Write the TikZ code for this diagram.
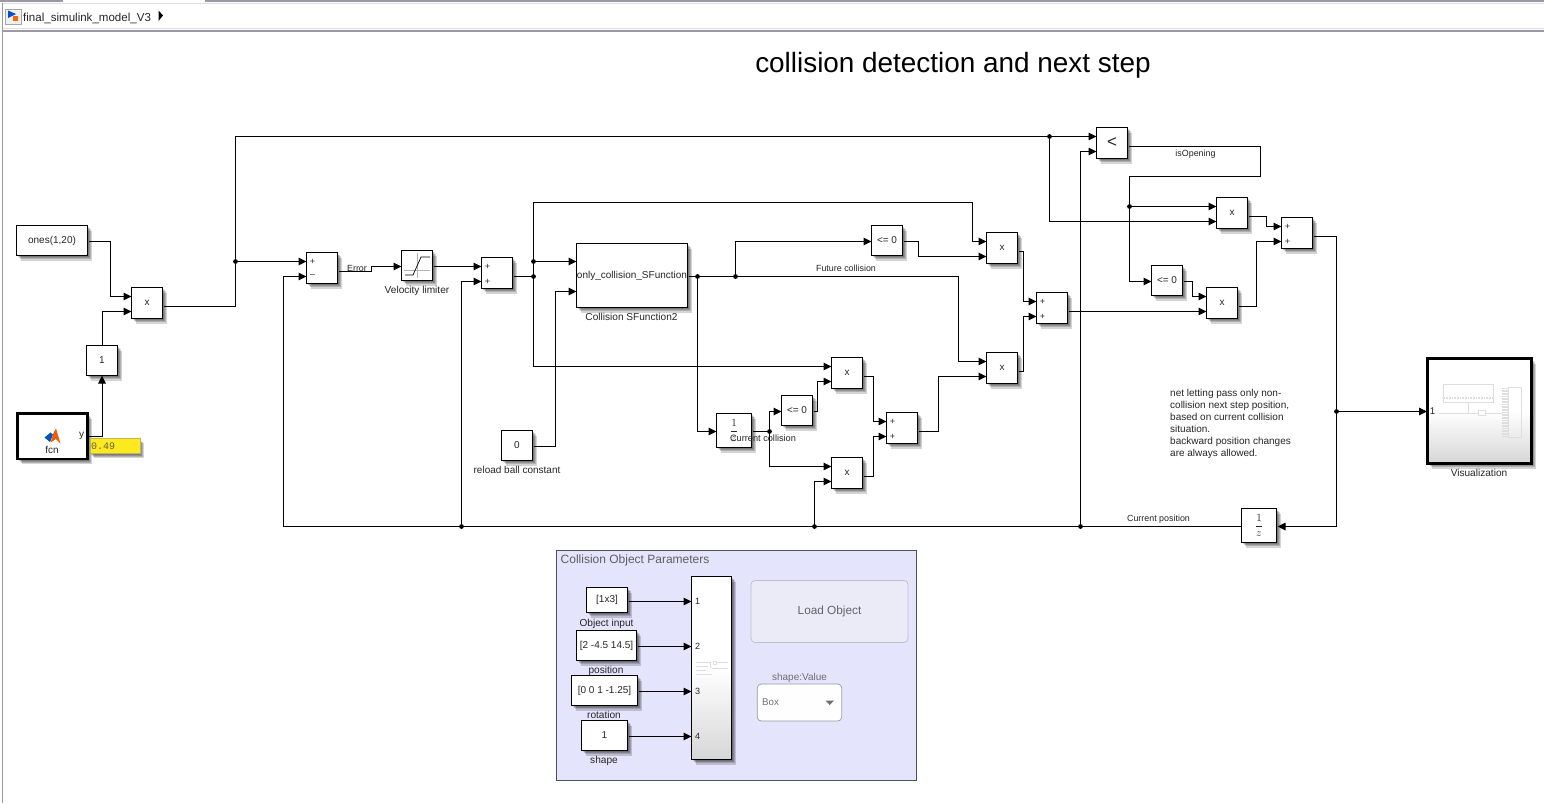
\documentclass[tikz,border=0pt]{standalone}
\usepackage{fontspec}
\setmainfont{Liberation Sans}
\newfontfamily\dispmono{Liberation Mono}
\usetikzlibrary{arrows.meta}
\definecolor{txt}{HTML}{262626}
\definecolor{panelbg}{HTML}{E4E4FC}
\definecolor{panelln}{HTML}{50505A}
\definecolor{barln}{HTML}{9A9AA6}
\definecolor{btnbg}{HTML}{EBEBF8}
\definecolor{btnln}{HTML}{BEBECC}
\definecolor{graytxt}{HTML}{6E6E78}
\definecolor{thumb}{HTML}{DEDEDE}
\definecolor{dispfill}{HTML}{FCE91E}
\definecolor{displn}{HTML}{C4B45A}
\tikzset{
  block/.style={draw=black,line width=1pt,fill=white,inner sep=0pt,outer sep=0pt,text=txt,font=\fontsize{10}{12}\selectfont},
  thickblock/.style={line width=2.4pt},
  shadestyle/.style={top color=white,bottom color=gray!32,middle color=white},
  lbl/.style={inner sep=0pt,text=txt,yshift=-.8pt,font=\fontsize{10.1}{12}\selectfont},
  sig/.style={lbl,font=\fontsize{8.9}{11}\selectfont},
  wire/.style={line width=1pt,draw=black,-{Triangle[length=8pt,width=7.5pt]}},
  plain/.style={line width=1pt,draw=black},
  jn/.style={circle,fill=black,inner sep=0pt,minimum size=4.8pt},
  sgn/.style={inner sep=0pt,text=txt,font=\fontsize{9}{10}\selectfont},
  thumbline/.style={draw=thumb,line width=.5pt}
}
\newcommand{\shd}[4]{\foreach \dx/\dy in {1/1.5,2/2.5,3/3.5,4/5}{\fill[black,opacity=.17] ({#1+\dx},{#2+\dy}) rectangle ({#3+\dx},{#4+\dy});}}
% [options], name, x1, y1, x2, y2, text
\newcommand{\blk}[7][]{\shd{#3}{#4}{#5}{#6}
  \node[block,#1,minimum width={(#5-#3)*1pt},minimum height={(#6-#4)*1pt}] (#2) at ({(#3+#5)/2},{(#4+#6)/2}) {\raisebox{-1.5pt}{#7}};}
% two-input block: input ports a, b and output o
\newcommand{\pblk}[4]{\blk{#1}{#2.5}{#3.5}{#2.5+31}{#3.5+31}{#4}
  \coordinate (#1-a) at (#2.5,#3+9.5);
  \coordinate (#1-b) at (#2.5,#3+24.5);
  \coordinate (#1-o) at (#2+33,#3+19.5);}
\newcommand{\oneoverz}{\raisebox{-.5pt}{\scalebox{1.1}{$\displaystyle\frac{1}{z}$}}}
\newcommand{\xmark}{\raisebox{-1pt}{x}}
\begin{document}
\begin{tikzpicture}[x=1pt,y=-1pt]
\useasboundingbox (0,0) rectangle (1544,803);
\fill[white] (0,0) rectangle (1544,803);
% window chrome
\fill[barln] (0,0) rectangle (63,1.5);
\fill[barln] (205,0) rectangle (1544,1.5);
\fill[barln] (2,3) rectangle (3.2,803);
\fill[barln] (3,30) rectangle (1544,32);
\draw[gray!25,line width=.5pt] (3,3.5) -- (1544,3.5);
\draw[gray!25,line width=.5pt] (3,28.5) -- (1544,28.5);
\draw[fill=gray!12,draw=gray!70,line width=.6pt] (5.5,9) rectangle (21,24.5);
\fill[blue!60!cyan!80!black] (8,10.5) -- (16,14) -- (8,18) -- cycle;
\fill[orange!80!red] (13,16) rectangle (18,21);
\node[anchor=west,inner sep=0pt,text=txt,font=\fontsize{11.55}{14}\selectfont] (crumb) at (23,18) {final\_simulink\_model\_V3};
\fill[black] (158.5,10.5) -- (163,15.5) -- (158.5,21) -- cycle;
% title
\node[inner sep=0pt,text=black,font=\fontsize{27.9}{32}\selectfont] (title) at (953,65) {collision detection and next step};

% blocks
\blk{ones}{16.5}{225.5}{87.5}{255.5}{\raisebox{-1pt}{ones(1,20)}}
\pblk{pa}{131}{287}{\xmark}
\blk{gain}{86.5}{345.5}{117.5}{375.5}{1}
\blk[thickblock]{fcn}{17.5}{413.5}{87.5}{459}{}
\pblk{sa}{306}{252}{}
\blk{lim}{401.5}{250.5}{432.5}{280.5}{}
\pblk{sb}{481}{257}{}
\blk{sfn}{576.5}{243.5}{687.5}{307.5}{\raisebox{-1pt}{only\_collision\_SFunction}}
\blk{zero}{501.5}{430.5}{532.5}{460.5}{0}
\blk{dly}{716.5}{413.5}{751.5}{447.5}{\oneoverz}
\blk{lea}{871.5}{225.5}{902.5}{255.5}{<= 0}
\pblk{pb}{986}{232}{\xmark}
\pblk{pc}{986}{352}{\xmark}
\pblk{sc}{1036}{292}{}
\pblk{pd}{831}{357}{\xmark}
\blk{leb}{781.5}{395.5}{812.5}{425.5}{<= 0}
\pblk{sd}{886}{412}{}
\pblk{pe}{831}{457}{\xmark}
\pblk{cmp}{1096}{127}{\fontsize{17}{20}\selectfont <}
\pblk{pf}{1216}{197}{\xmark}
\pblk{se}{1281}{217}{}
\blk{lec}{1151.5}{265.5}{1182.5}{295.5}{<= 0}
\pblk{pg}{1206}{287}{\xmark}
\blk{udl}{1241.5}{508.5}{1276.5}{542.5}{\oneoverz}
\blk[thickblock,shadestyle]{vis}{1427.5}{358.5}{1531.5}{463.5}{}

% signs on sums
\foreach \n in {sb,sc,sd,se}{
  \node[sgn] at ([xshift=6pt]\n-a) {+};
  \node[sgn] at ([xshift=6pt]\n-b) {+};}
\node[sgn] at ([xshift=6pt]sa-a) {+};
\node[sgn] at ([xshift=6pt]sa-b) {--};

% fcn contents
\fill[blue!55!cyan!75!black] (44.5,437.5) -- (50.5,432.5) -- (53,434.5) -- (50,442) -- cycle;
\fill[orange!75!red!95!black] (50.5,442.5) -- (53.5,433) -- (56,428.5) -- (60.5,443.5) -- (56,439) -- cycle;
\node[inner sep=0pt,text=txt,font=\fontsize{10}{12}\selectfont] (fcnl) at (52,450) {fcn};
\node[inner sep=0pt,text=txt,font=\fontsize{10}{12}\selectfont] (yl) at (81.5,436) {y};
\shd{90}{438}{140}{453}
\node[draw=displn,line width=.8pt,fill=dispfill,minimum width=50pt,minimum height=15pt,inner sep=0pt] (disp) at (115,445.5) {};
\node[anchor=west,inner sep=0pt,text=yellow!30!black,font=\dispmono\fontsize{10}{12}\selectfont] (dispt) at (91,446) {0.49};

% limiter icon
\draw[gray!60,line width=.5pt] (417,253) -- (417,278);
\draw[gray!60,line width=.5pt] (404,270) -- (430,270);
\draw[black,line width=.7pt] (405,275) -- (413,275) -- (421,257) -- (430,257);

% wires
\draw[wire] (89,241.5) -- (110.5,241.5) -- (110.5,296.5) -- (pa-a);
\draw[wire] (gain.north) -- (102,311.5) -- (pa-b);
\draw[wire] (89,436.5) -- (102,436.5) -- (gain.south);
\node[jn] (ja) at (235.5,261.5) {};
\node[jn] (jb) at (1049.5,136.5) {};
\draw[plain] (pa-o) -- (235.5,306.5) -- (235.5,136.5) -- (jb);
\draw[wire] (jb) -- (cmp-a);
\draw[wire] (ja) -- (sa-a);
\draw[wire] (1241.5,526.5) -- (283.5,526.5) -- (283.5,276.5) -- (sa-b);
\draw[wire] (sa-o) -- (371.5,271.5) -- (371.5,266.5) -- (401.5,266.5);
\draw[wire] (434,266.5) -- (sb-a);
\node[jn] (jc) at (461.5,526.5) {};
\draw[wire] (jc) -- (461.5,281.5) -- (sb-b);
\node[jn] (jd) at (533.5,276.5) {};
\node[jn] (je) at (533.5,261.5) {};
\draw[plain] (sb-o) -- (jd);
\draw[wire] (je) -- (576.5,261.5);
\draw[wire] (533.5,366.5) -- (533.5,202.5) -- (972.5,202.5) -- (972.5,241.5) -- (pb-a);
\draw[wire] (jd) -- (533.5,366.5) -- (pd-a);
\draw[wire] (534,446.5) -- (555.5,446.5) -- (555.5,291.5) -- (576.5,291.5);
\node[jn] (jf) at (697.5,276.5) {};
\node[jn] (jg) at (735.5,276.5) {};
\draw[plain] (689,276.5) -- (jf);
\draw[plain] (jf) -- (jg);
\draw[wire] (jg) -- (958.5,276.5) -- (958.5,361.5) -- (pc-a);
\draw[wire] (jg) -- (735.5,241.5) -- (871.5,241.5);
\draw[wire] (jf) -- (697.5,431.5) -- (716.5,431.5);
\node[jn] (jh) at (769.5,431.5) {};
\draw[plain] (753,431.5) -- (jh);
\draw[wire] (jh) -- (769.5,411.5) -- (781.5,411.5);
\draw[wire] (jh) -- (769.5,466.5) -- (pe-a);
\draw[wire] (814,411.5) -- (817.5,411.5) -- (817.5,381.5) -- (pd-b);
\draw[wire] (pd-o) -- (873.5,376.5) -- (873.5,421.5) -- (sd-a);
\draw[wire] (pe-o) -- (873.5,476.5) -- (873.5,436.5) -- (sd-b);
\node[jn] (ji) at (814.5,526.5) {};
\draw[wire] (ji) -- (814.5,481.5) -- (pe-b);
\draw[wire] (sd-o) -- (938.5,431.5) -- (938.5,376.5) -- (pc-b);
\draw[wire] (904,241.5) -- (918.5,241.5) -- (918.5,256.5) -- (pb-b);
\draw[wire] (pb-o) -- (1023.5,251.5) -- (1023.5,301.5) -- (sc-a);
\draw[wire] (pc-o) -- (1023.5,371.5) -- (1023.5,316.5) -- (sc-b);
\draw[wire] (sc-o) -- (pg-b);
\draw[wire] (jb) -- (1049.5,221.5) -- (pf-b);
\node[jn] (jj) at (1080.5,526.5) {};
\draw[wire] (jj) -- (1080.5,151.5) -- (cmp-b);
\node[jn] (jk) at (1129.5,206.5) {};
\draw[plain] (cmp-o) -- (1260.5,146.5) -- (1260.5,176.5) -- (1129.5,176.5) -- (jk);
\draw[wire] (jk) -- (pf-a);
\draw[wire] (jk) -- (1129.5,281.5) -- (1151.5,281.5);
\draw[wire] (pf-o) -- (1266.5,216.5) -- (1266.5,226.5) -- (se-a);
\draw[wire] (pg-o) -- (1256.5,306.5) -- (1256.5,241.5) -- (se-b);
\draw[wire] (1184,281.5) -- (1192.5,281.5) -- (1192.5,296.5) -- (pg-a);
\node[jn] (jl) at (1336.5,411.5) {};
\draw[wire] (se-o) -- (1336.5,236.5) -- (1336.5,526.5) -- (1277.5,526.5);
\draw[wire] (jl) -- (1427,411.5);

% block labels
\node[lbl] (t1) at (417,290) {Velocity limiter};
\node[lbl] (t2) at (631.5,316.5) {Collision SFunction2};
\node[lbl,font=\fontsize{10}{12}\selectfont] (t3) at (517,469) {reload ball constant};
\node[lbl] (t4) at (1479,472.2) {Visualization};
% signal labels
\node[sig] (t5) at (357,268) {Error};
\node[sig] (t6) at (846,268) {Future collision};
\node[lbl,font=\fontsize{9.2}{11}\selectfont] (t7) at (763,437.2) {Current collision};
\node[sig] (t8) at (1195.5,153) {isOpening};
\node[sig] (t9) at (1158.5,518) {Current position};
% note
\node[anchor=north west,inner sep=0pt,align=left,text=txt,font=\fontsize{10}{12}\selectfont] (note) at (1170,389.5)
 {net letting pass only non-\\collision next step position,\\based on current collision\\situation.\\backward position changes\\are always allowed.};

% visualization thumbnail
\node[inner sep=0pt,text=txt,font=\fontsize{9.7}{11}\selectfont] (p1) at (1432.5,411) {1};
\draw[thumbline] (1443.5,384.5) rectangle (1493,402.5);
\draw[thumbline,dash pattern=on .8pt off .8pt,line width=2pt] (1444,398) -- (1493,398);
\draw[thumbline] (1439,413) -- (1478.5,413);
\draw[thumbline] (1478.5,410.5) rectangle (1485.5,415.5);
\draw[thumbline] (1468.5,402.5) -- (1468.5,413);
\draw[thumbline] (1485.5,413) -- (1502,413);
\draw[thumbline] (1508,387.5) rectangle (1521,437.5);
\draw[thumbline,dash pattern=on .6pt off 1pt,line width=6pt] (1505,388) -- (1505,437.5);

% panel
\draw[panelln,fill=panelbg,line width=.8pt] (556.5,550.5) rectangle (916.5,780);
\node[anchor=west,inner sep=0pt,text=graytxt!85!black,font=\fontsize{12}{14}\selectfont] (pt) at (560.5,560.5) {Collision Object Parameters};
\blk[shadestyle]{sub}{691.5}{576.5}{731.5}{759.5}{}
\blk{ia}{586.5}{587.5}{627.5}{612.5}{\raisebox{-1pt}{[1x3]}}
\blk{ib}{576.5}{630.5}{636.5}{660.5}{[2 -4.5 14.5]}
\blk{ic}{571.5}{675.5}{637.5}{705.5}{[0 0 1 -1.25]}
\blk{id}{581.5}{720.5}{627.5}{750.5}{1}
\coordinate (pa1) at (691.5,601.5);
\coordinate (pa2) at (691.5,646.5);
\coordinate (pa3) at (691.5,691.5);
\coordinate (pa4) at (691.5,736.5);
\draw[wire] (629,601.5) -- (pa1);
\draw[wire] (638,646.5) -- (pa2);
\draw[wire] (639,691.5) -- (pa3);
\draw[wire] (629,736.5) -- (pa4);
\foreach \i in {1,2,3,4}{\node[anchor=west,inner sep=0pt,text=txt,font=\fontsize{9}{10}\selectfont] at ([xshift=3.5pt]pa\i) {\i};}
\node[lbl] (u1) at (606.5,623) {Object input};
\node[lbl] (u2) at (606,670) {position};
\node[lbl] (u3) at (604,714) {rotation};
\node[lbl] (u4) at (604,760) {shape};
% subsystem thumbnail
\draw[thumbline] (696,662) -- (710,662) -- (710,668);
\draw[thumbline] (696,666) -- (708,666);
\draw[thumbline] (696,670) -- (706,670);
\draw[thumbline] (696,674.5) -- (712,674.5);
\draw[thumbline] (713,661.5) rectangle (716,664);
\draw[thumbline] (716,662.5) -- (728,662.5);
\draw[thumbline] (712,668) -- (728,668);
% controls
\node[draw=btnln,fill=btnbg,rounded corners=4pt,line width=.7pt,minimum width=157pt,minimum height=62pt,inner sep=0pt,text=graytxt!90!black,font=\fontsize{11.8}{13}\selectfont] (btn) at (829.5,611.5) {\raisebox{-1.2pt}{Load Object}};
\node[inner sep=0pt,text=graytxt,font=\fontsize{10}{11}\selectfont] (sv) at (799.5,678) {shape:Value};
\node[draw=graytxt!70,fill=white!70!panelbg!10!white,rounded corners=4pt,line width=.7pt,minimum width=84.5pt,minimum height=37pt,inner sep=0pt] (dd) at (799.5,702.5) {};
\node[anchor=west,inner sep=0pt,text=graytxt,font=\fontsize{9.7}{11}\selectfont] (ddt) at (762,702.5) {Box};
\fill[graytxt] (825.5,700.5) -- (834,700.5) -- (829.7,705) -- cycle;
\end{tikzpicture}
\end{document}
